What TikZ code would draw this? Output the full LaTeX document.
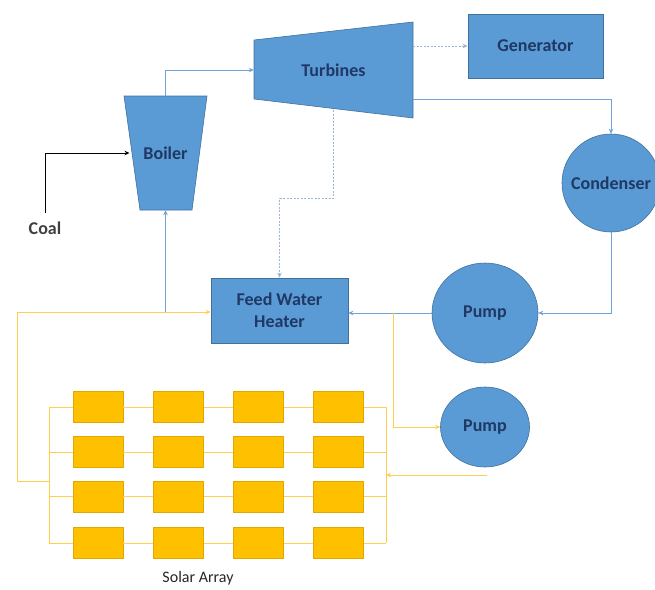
\documentclass[tikz,border=0pt]{standalone}
\usepackage{fontspec}
\setmainfont{Carlito}
\usetikzlibrary{arrows.meta,calc,shapes.geometric}
\definecolor{boxblue}{HTML}{5B9BD5}
\definecolor{edgeblue}{HTML}{41719C}
\definecolor{lineblue}{HTML}{6FA3D8}
\definecolor{solar}{HTML}{FFC000}
\definecolor{solarline}{HTML}{FFCF4D}
\definecolor{txt}{HTML}{1F3864}
\definecolor{dotc}{HTML}{9DB5D3}
\begin{document}
\begin{tikzpicture}[x=1pt,y=-1pt,
  lbl/.style={font=\bfseries\fontsize{18}{22}\selectfont, text=txt, align=center, inner sep=0pt},
  unit/.style={fill=boxblue, draw=edgeblue, line width=0.6pt},
  panel/.style={fill=solar, draw=solar!88!black, line width=0.4pt, minimum width=50pt, minimum height=31pt, inner sep=0pt},
  bflow/.style={draw=lineblue, line width=0.9pt},
  yflow/.style={draw=solarline, line width=0.9pt},
  dflow/.style={draw=dotc, line width=1pt, dash pattern=on 2pt off 1.5pt},
  tip/.style={-{Stealth[length=5pt,width=4.5pt]}},
  ]
\path[use as bounding box] (0,0) rectangle (655,589);

% Boiler
\draw[unit] (124,96) -- (207,96) -- (192,210) -- (140,210) -- cycle;
\node[lbl, minimum width=83pt, minimum height=114pt] (boiler) at (165.5,153) {Boiler};
% Turbines
\draw[unit] (254,40) -- (413,22) -- (413,118) -- (254,99) -- cycle;
\node[lbl, minimum width=159pt, minimum height=96pt] (turbine) at (333.5,70) {Turbines};
% Generator
\node[unit, lbl, minimum width=135pt, minimum height=64pt] (gen) at (535.5,46) {Generator};
% Condenser
\node[unit, lbl, circle, minimum size=98pt] (cond) at (611,183) {Condenser};
% Pumps
\node[unit, lbl, ellipse, minimum width=106pt, minimum height=100pt] (pump1) at (485,313) {Pump};
\node[unit, lbl, ellipse, minimum width=89pt, minimum height=80pt] (pump2) at (485,427) {Pump};
% Feed water heater
\node[unit, lbl, minimum width=137pt, minimum height=65pt] (fwh) at (279.5,310.5) {Feed Water\\Heater};
% Coal
\node[lbl, text=black!75, inner sep=8pt] (coal) at (45,228) {Coal};
% Solar array label
\node[font=\fontsize{16}{18}\selectfont, text=black!85] (solarlbl) at (198,578) {Solar Array};

% Solar panels
\foreach \r/\y in {1/407,2/452,3/496.5,4/543}{
  \foreach \c/\x in {1/98,2/178.5,3/258.5,4/338.5}{
    \node[panel] (p-\r-\c) at (\x,\y) {};
  }
  \draw[yflow] (p-\r-1.east) -- (p-\r-2.west);
  \draw[yflow] (p-\r-2.east) -- (p-\r-3.west);
  \draw[yflow] (p-\r-3.east) -- (p-\r-4.west);
  \draw[yflow] (49,\y) -- (p-\r-1.west);
  \draw[yflow] (p-\r-4.east) -- (386,\y);
}
\coordinate (lbtop) at (49,407);
\coordinate (lbbot) at (49,543);
\coordinate (rbtop) at (386,407);
\coordinate (rbbot) at (386,543);
\draw[yflow] (lbtop) -- (lbbot);
\draw[yflow] (rbtop) -- (rbbot);

% Solar loop to feed water heater
\coordinate (lj) at (49,481);
\coordinate (yc) at (17,312);
\draw[yflow, tip] (lj) -| (yc) -- (yc -| fwh.west);
% Boiler feed
\coordinate (bj) at (165.5,312);
\draw[bflow, tip] (bj) -- (boiler.south);

% Coal to boiler
\draw[black, line width=0.9pt, tip] (coal.north) |- ($(boiler.center)+(-36,0)$);
% Boiler to turbine
\draw[bflow, tip] (boiler.north) |- (turbine.west);
% Turbine to generator
\draw[dflow, tip] (turbine.east |- gen.west) -- (gen.west);
% Turbine to condenser
\draw[bflow, tip] ($(turbine.east)+(0,29)$) -| (cond.north);
% Turbine bleed to feed water heater
\draw[dflow, tip] ($(turbine.south)+(0,-8)$) -- ++(0,88) -| (fwh.north);
% Condenser to pump
\draw[bflow, tip] (cond.south) |- (pump1.east);
% Pump to feed water heater
\draw[bflow, tip] (pump1.west) -- (pump1.west -| fwh.east);
% Branch to solar pump
\coordinate (ybr) at (393,313);
\draw[yflow, tip] (ybr) |- (pump2.west);
% Solar pump return
\coordinate (p2ret) at (487,475);
\draw[yflow, tip] (p2ret) -- (p2ret -| rbtop);
\end{tikzpicture}
\end{document}
